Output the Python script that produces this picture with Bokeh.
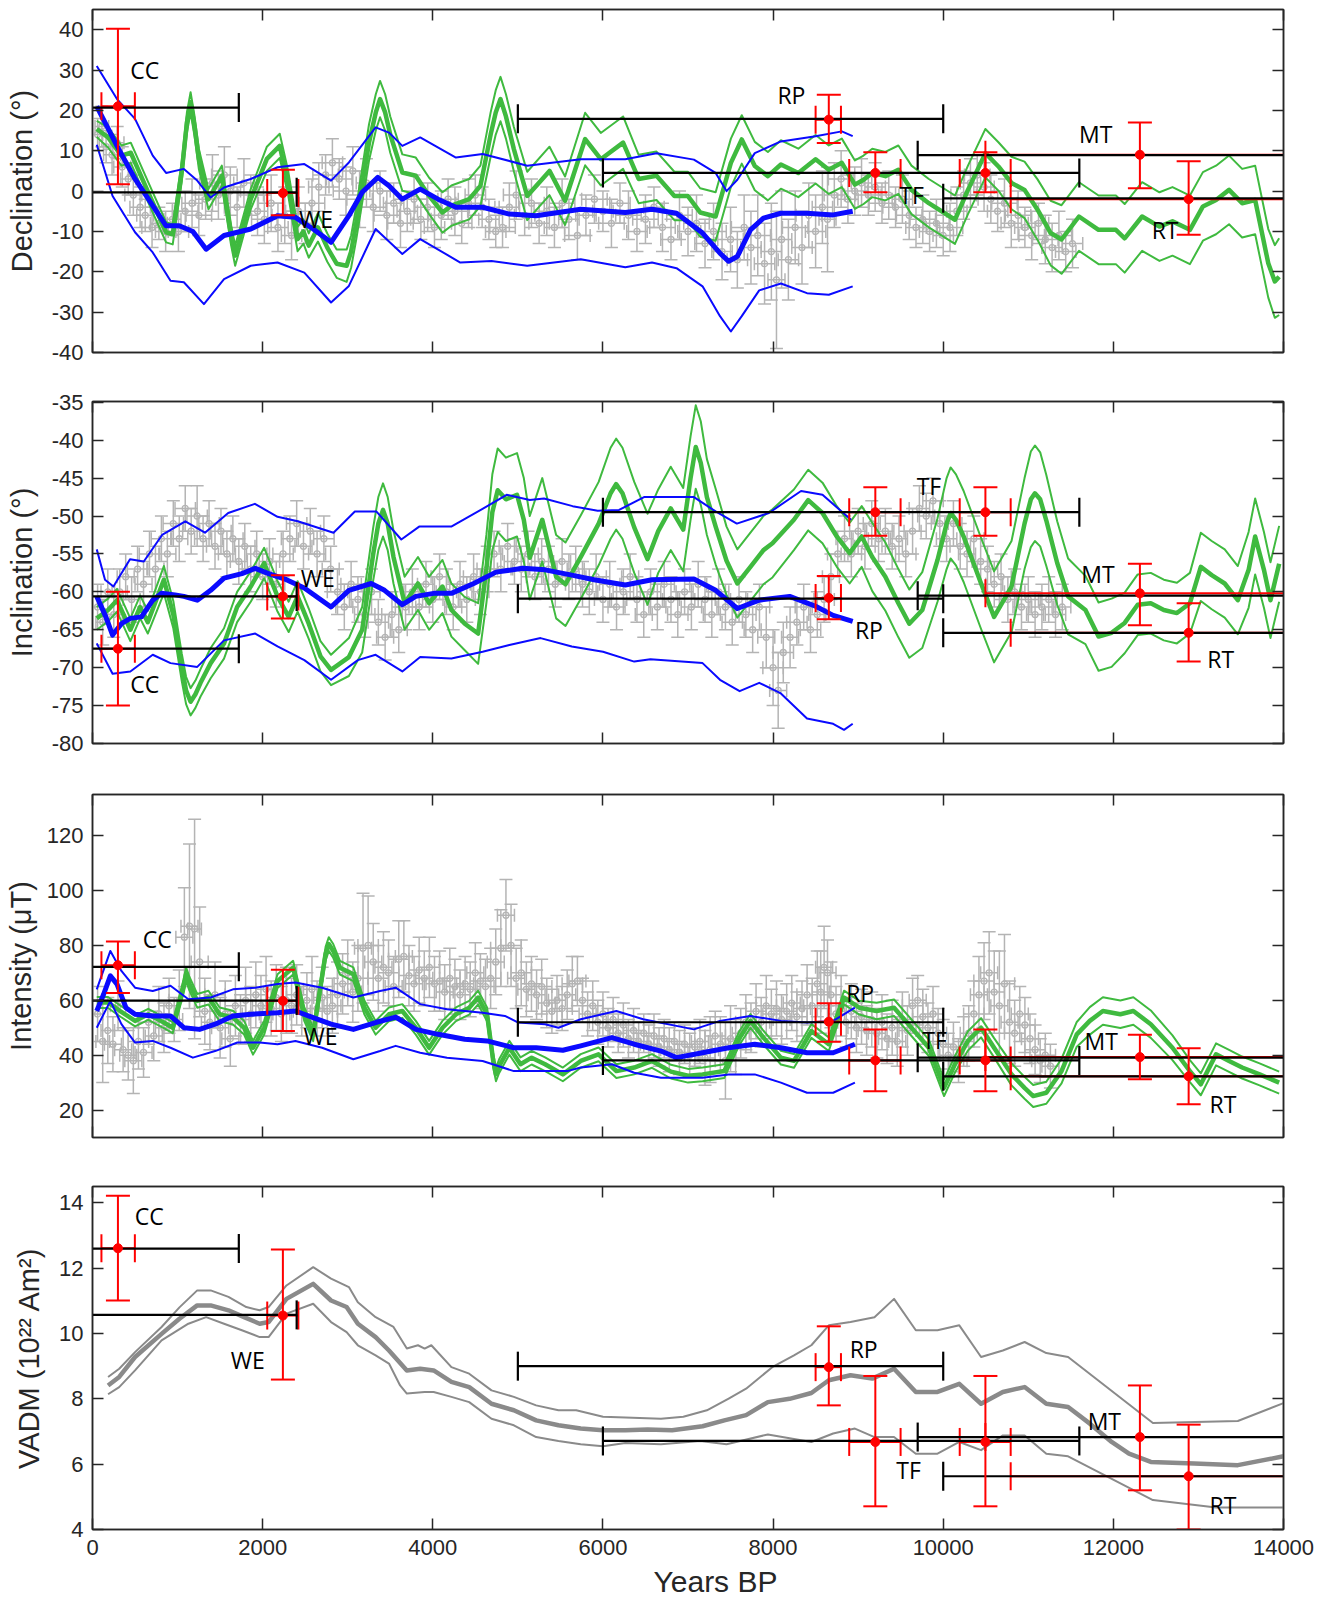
import numpy as np
from bokeh.plotting import figure
from bokeh.layouts import column
from bokeh.models import Range1d, FixedTicker, Title, CustomJSTickFormatter, LinearAxis
from bokeh.core.properties import value
from bokeh.embed import file_html
from bokeh.resources import INLINE

# ---------------- data ----------------
X_TICKS = [0, 2000, 4000, 6000, 8000, 10000, 12000, 14000]
DEC_TICKS = [-40, -30, -20, -10, 0, 10, 20, 30, 40]
INC_TICKS = [-80, -75, -70, -65, -60, -55, -50, -45, -40, -35]
INT_TICKS = [20, 40, 60, 80, 100, 120]
VADM_TICKS = [4, 6, 8, 10, 12, 14]

SITES = ["CC", "WE", "RP", "TF", "MT", "RT"]

# red site means: CC, WE, RP, TF(a), TF(b), MT, RT
RED_AGE = [299, 2238, 8655, 9202, 10496, 12312, 12885]
RED_AGE_LO = [105, 2054, 8500, 8895, 10194, 10496, 10793]
RED_AGE_HI = [498, 2420, 8798, 9499, 10793, 14128, 14977]
RED_DEC = [21.0, -0.5, 17.7, 4.5, 4.5, 9.0, -2.0]
RED_DEC_LO = [1.7, -6.0, 11.9, -0.3, -0.3, 0.7, -10.8]
RED_DEC_HI = [40.2, 5.3, 23.9, 9.6, 9.6, 17.0, 7.4]
RED_INC = [-67.5, -60.6, -60.8, -49.5, -49.5, -60.2, -65.4]
RED_INC_LO = [-75.0, -63.5, -63.6, -52.6, -52.6, -64.4, -69.2]
RED_INC_HI = [-60.0, -57.8, -57.9, -46.2, -46.2, -56.3, -61.5]
RED_INT = [72.8, 59.8, 52.2, 38.1, 38.1, 39.3, 32.3]
RED_INT_LO = [62.7, 48.8, 44.9, 26.9, 26.9, 31.2, 22.1]
RED_INT_HI = [81.4, 71.1, 58.9, 49.4, 49.4, 47.4, 42.5]
RED_VADM = [12.61, 10.55, 8.97, 6.68, 6.68, 6.83, 5.63]
RED_VADM_LO = [11.01, 8.59, 7.80, 4.71, 4.71, 5.20, 4.00]
RED_VADM_HI = [14.22, 12.57, 10.22, 8.70, 8.70, 8.41, 7.21]

# black age ranges: CC, WE, RP, TF, MT, RT
RANGE_LO = [-200, -200, 5000, 6000, 9700, 10000]
RANGE_HI = [1720, 2400, 10000, 11600, 15000, 15000]
RANGE_DEC = [20.7, -0.3, 17.9, 4.5, 8.9, -1.8]
RANGE_INC = [-67.5, -60.6, -60.9, -49.5, -60.5, -65.4]
RANGE_INT = [72.2, 59.9, 52.0, 38.1, 39.1, 32.3]
RANGE_VADM = [12.6, 10.57, 9.0, 6.71, 6.83, 5.63]

# site label anchor positions (age, value) per panel, order of SITES
POS_DEC = [[445, 30], [2427, -6.9], [8051, 23.9], [9483, -0.9], [11596, 14.1], [12450, -9.6]]
POS_INC = [[445, -72.2], [2448, -58.2], [8962, -65.0], [9688, -46.1], [11622, -57.7], [13105, -68.8]]
POS_INT = [[592, 82.5], [2479, 47.0], [8859, 62.6], [9754, 45.4], [11662, 45.2], [13130, 22.3]]
POS_VADM = [[498, 13.61], [1625, 9.18], [8900, 9.54], [9448, 5.81], [11698, 7.33], [13130, 4.74]]

# green model: [age, value, half-width]
GREEN_DEC = [[50,15.4,2],[183,13.3,2.5],[340,8.8,2.5],[450,9.5,2.5],[655,-0.3,2.5],[865,-10.2,2.5],[943,-10.7,2.5],
 [1050,5,2.5],[1110,17,2.5],[1153,22,2.5],[1200,16,2.5],[1250,8,2.5],[1363,-2,2.5],[1520,3.8,2.5],[1630,-11,2.5],
 [1677,-16,2.5],[1730,-12,2.5],[1860,-2,2.5],[2050,8,3],
 [2201,11.2,3],[2300,2,3],[2411,-11.9,3],[2480,-10,3],[2542,-13.5,3],[2650,-9,3.5],[2760,-14,3.5],[2870,-18,3.5],
 [2987,-18.5,4],[3040,-15,4],[3100,-8,4],[3250,12,4.5],[3330,19.5,4.5],[3380,22.8,4.5],[3440,19.5,4.5],[3500,14,4.5],
 [3642,4.6,4.5],[3800,3.8,4.5],[3957,-1.2,4.5],
 [4114,-5.3,5],[4219,-3.6,5],[4428,-2,5],[4560,1.3,5],[4680,14,5.5],[4740,19.5,5.5],[4796,22.8,5.5],[4860,18.5,5.5],
 [4953,10.4,5.5],[5110,-1.2,6],
 [5372,5,6],[5555,-2.4,6],[5791,12.9,6.5],[5975,7.9,6.5],[6237,12,6.5],[6420,3,6],[6630,3.8,6],[6840,-1.2,6],
 [6997,-1.2,6],[7143,-5.3,6],[7325,-6.3,6],[7504,7,6],[7632,12.8,6],[7785,6.2,6],[7939,3.7,6],[8092,6.6,6],
 [8297,4.5,6],[8500,7.9,6],[8655,5.3,6],[8808,7,6],[8962,1.6,6],[9064,2.8,6],[9166,4.5,6],[9320,3.7,6],
 [9473,5.3,6],[9627,0.3,6],[9831,-3,6],[10138,-7.1,6],[10291,0.3,6],[10496,9.4,6],[10649,6.1,6],[10803,2,6.5],
 [10956,0.3,7],[11109,-4.6,7.5],[11263,-10.4,8],[11391,-12,8.5],[11596,-6.3,8.5],[11826,-9.6,8.5],[12030,-9.6,8.5],
 [12133,-11.7,8.5],[12338,-6.3,8.5],[12542,-8.8,8.5],[12695,-7.5,8.5],[12900,-9.6,8.5],[13053,-3.8,8.5],
 [13207,-2.2,8.5],[13360,0.3,8.5],[13514,-3,8.5],[13667,-2.2,8.5],[13821,-17.9,8.5],[13898,-22.4,9],[13949,-21.2,9.5]]

GREEN_INC = [[50,-63.5,1.5],[183,-62.4,1.5],[288,-61.1,1.5],[445,-65,1.5],[560,-62,1.5],[650,-64,1.5],[839,-58.4,1.8],
 [950,-63,1.8],[1050,-70,1.8],[1100,-73,1.8],[1153,-74.5,1.8],[1210,-73.5,1.8],[1270,-72,1.8],[1389,-69.4,2],
 [1546,-66.8,2],[1700,-62,2],[1860,-59.3,2],
 [2018,-56.2,2],[2175,-60.6,2],[2306,-63.3,2],[2411,-60.6,2],[2542,-64.2,2],[2680,-68.5,2],[2804,-70.3,2],[3014,-68.6,2.5],
 [3170,-65,3],[3300,-55,3.5],[3360,-51,3.5],[3415,-49.2,3.5],[3470,-51,3.5],[3538,-55.4,3.5],[3669,-61.5,3.5],
 [3826,-58.9,3.5],[3957,-61.5,3.5],
 [4114,-59.3,3.5],[4219,-62.4,3.5],[4376,-64.2,3.5],[4533,-65.5,4],[4630,-57,4.5],[4700,-49.5,5],[4763,-46.6,5.5],
 [4860,-47.8,5.5],[4990,-47.2,5.5],[5070,-50.5,5.5],[5140,-55.5,5.5],[5287,-50.5,5.5],[5450,-58,5.5],[5560,-59,5.5],
 [5740,-55.4,5.5],[5950,-51,5.5],
 [6090,-47,6],[6155,-45.8,6],[6230,-47,6],[6368,-51.5,6],[6524,-55.7,6],[6650,-52,5.5],[6797,-49,5.5],[6944,-51.8,5.5],
 [7030,-45,5.5],[7091,-40.9,5.5],[7150,-43,5.5],
 [7222,-47.5,5],[7325,-51.4,5],[7453,-55.9,4.5],[7580,-58.9,4.5],[7734,-56.7,4.5],[7887,-54.5,4.5],[7993,-53.6,4.5],
 [8245,-50.5,4],[8413,-47.9,4],[8581,-49.6,4],[8749,-52.7,4],[8900,-54.9,4],[9042,-52.7,4],
 [9166,-55.4,4.5],[9320,-58,4.5],[9473,-61.5,4.5],[9601,-64.2,4.5],[9754,-62.4,5],[9933,-55.8,5.5],[10040,-51,6],
 [10087,-49.6,6],[10150,-50.5,6],
 [10240,-52.7,6],[10445,-58.9,6],[10598,-63.3,6],[10803,-59.3,6],[10956,-51,6],[11030,-47.8,6.3],[11078,-47,6.3],
 [11140,-47.8,6.2],[11212,-50.6,6],
 [11340,-56.2,5.5],[11468,-60.6,5],[11672,-62.4,4.5],[11826,-65.9,4.5],[11979,-65.4,4.5],[12133,-64.1,4],
 [12286,-61.7,4],[12440,-61.5,4],[12593,-62.4,4],[12747,-62.8,4],[12900,-61.5,4],[13028,-56.7,4.5],[13156,-57.8,4.5],
 [13309,-58.9,4.5],[13463,-61.1,4.5],[13590,-57.1,5],[13667,-52.7,5],[13770,-57.1,5],[13847,-61.1,5],[13949,-56.3,5]]

GREEN_INT = [[50,59.2,2],[183,59.2,2],[330,56,2],[500,52.5,2],[655,54.9,2],[839,51.9,2],[943,50,2],[1070,65,2.5],
 [1100,69.5,2.5],[1140,66,2.5],
 [1231,59.8,2.5],[1363,61,2.5],[1494,54.9,2.5],[1651,53.7,2.5],[1782,50,2.5],[1887,42.7,2.5],[2018,50,2.5],
 [2175,67,2.5],[2358,71.9,2.5],[2490,54.9,2.5],[2594,47.6,2.5],[2740,77,2.5],[2778,80.5,2.5],[2830,78,2.5],
 [2909,71.9,2.5],[3066,69.5,2.5],
 [3197,57.3,2.5],[3328,50,2.5],[3485,54.9,2.5],[3642,56.1,2.5],[3800,50,2.5],[3957,42.7,2.5],[4114,50,2.5],
 [4272,54.9,2.5],[4428,57.3,2.5],[4533,61,2.5],[4638,54.9,2.5],[4710,38,2.5],[4743,33,2.5],[4780,36,2.5],
 [4900,42.7,2.5],[5031,36.7,2.5],
 [5162,39.1,2.5],[5320,36.7,2.5],[5529,33,2.5],[5739,37.9,2.5],[5948,40.3,2.5],[6158,34.2,2.5],[6368,35.5,2.5],
 [6577,37.9,2.5],[6800,34,2.5],[7000,32.5,2.5],[7171,33,2.5],[7427,34.2,2.5],[7600,46,2.5],[7734,52.5,2.5],
 [7887,46.4,2.5],[8092,39.1,2.5],[8246,37.9,2.5],[8450,48.8,2.5],[8655,44,2.5],[8834,61,2.5],[9013,57.3,2.5],
 [9217,56.1,3],[9422,57.3,3],[9627,50,3],[9831,42.7,3],[10010,28.1,3],[10138,36.7,3],[10291,45.2,3.5],
 [10445,50,3.5],[10598,42.7,3.5],[10803,33,4],[10956,28.1,4],[11058,25.1,4],[11212,26.3,4],[11391,34.2,4.5],
 [11570,47.6,4.5],[11723,52.5,5],[11877,56.1,5],[12082,54.9,5],[12235,56.1,5],[12440,51.3,5],[12695,42.7,4.5],
 [12900,34.2,4],[13028,29.4,4],[13207,40.3,4],[13360,37.9,4],[13514,35.5,4],[13719,33,4],[13949,30,4]]

# blue model: [age, value]
BLUE_DEC = [[50,21],[288,11.2],[500,3],[708,-3.6],[865,-8.6],[1020,-8.6],[1180,-10],[1336,-14.4],[1546,-11],
 [1860,-9.4],[2175,-6.1],[2385,-6.5],[2594,-9.4],[2804,-12.7],[3014,-6.1],[3170,-0.3],[3354,3.4],[3485,1.3],
 [3642,-2],[3852,0.5],[4062,-2],[4272,-4],[4586,-4],[4900,-5.7],[5215,-6.1],[5739,-4.5],[6263,-5.3],[6577,-4.5],
 [6865,-5.5],[7171,-10.4],[7376,-15.4],[7478,-17.4],[7580,-16.2],[7734,-9.6],[7887,-6.7],[8092,-5.5],[8399,-5.5],
 [8706,-5.9],[8936,-5.0]]
BLUE_DEC_UP = [[50,31],[288,22.8],[500,17.9],[708,8.8],[865,4.5],[1074,5.5],[1231,2.6],[1389,-1.6],[1546,0.9],
 [1860,3],[2175,5.9],[2490,6.7],[2804,2.6],[3014,7.1],[3328,15.8],[3485,14.5],[3642,11.2],[3852,13.3],[4272,8.3],
 [4586,9.2],[5110,6.3],[5739,7.9],[6263,7.9],[6630,9.4],[7069,7.8],[7325,4.5],[7453,0],[7580,2.8],[7785,9.4],
 [8092,12.3],[8500,13.6],[8808,14.8],[8936,13.6]]
BLUE_DEC_LO = [[50,11.5],[236,-1.2],[500,-10.2],[708,-15.2],[917,-22.2],[1074,-22.6],[1310,-28],[1546,-21.8],
 [1860,-18.5],[2175,-17.7],[2490,-20.2],[2804,-27.6],[3014,-23.5],[3328,-9.4],[3642,-15.6],[3852,-11.9],[4324,-17.7],
 [4690,-17.3],[5110,-18.5],[5739,-16.9],[6263,-18.9],[6577,-17.7],[6865,-19.1],[7171,-23.6],[7376,-31],[7504,-34.8],
 [7632,-31],[7837,-24.6],[8092,-22.9],[8399,-25.3],[8655,-25.7],[8936,-23.6]]

BLUE_INC = [[50,-60.6],[157,-63.3],[236,-65.7],[340,-64.2],[445,-63.5],[576,-63.3],[708,-61.1],[812,-60.2],[970,-60.4],
 [1074,-60.6],[1231,-61.1],[1389,-59.8],[1546,-58.2],[1756,-57.6],[1913,-56.9],[2070,-57.6],[2280,-58.4],[2490,-59.5],
 [2804,-62],[3014,-59.8],[3276,-58.9],[3433,-59.8],[3642,-61.7],[3800,-60.6],[4010,-60.2],[4219,-60.2],[4481,-58.9],
 [4743,-57.4],[5058,-56.9],[5320,-57.1],[5634,-57.8],[5896,-58.4],[6263,-59.1],[6577,-58.4],[7069,-58.3],[7325,-59.8],
 [7580,-62.2],[7837,-61.1],[8195,-60.6],[8500,-61.9],[8706,-63.1],[8936,-63.9]]
BLUE_INC_UP = [[50,-54.4],[147,-58.4],[246,-59.3],[441,-55.7],[603,-56],[818,-52.5],[1091,-50.7],[1322,-52.2],
 [1595,-49.6],[1909,-48.4],[2175,-50.1],[2413,-50.7],[2833,-52.2],[3084,-49.4],[3336,-49.4],[3630,-53.1],[3840,-51.4],
 [4217,-51.4],[4595,-49],[4868,-47.2],[5140,-47.9],[5308,-47.7],[5644,-48.7],[5938,-49.3],[6190,-49.2],[6483,-47.5],
 [7070,-47.5],[7325,-49.4],[7574,-51],[7951,-49.6],[8329,-46.7],[8581,-47.2],[8917,-50.5]]
BLUE_INC_LO = [[50,-66.8],[236,-70.8],[445,-70.5],[708,-68.3],[917,-69.4],[1231,-69.9],[1546,-66.4],[1913,-65.5],
 [2175,-67.2],[2490,-69],[2804,-71.6],[3119,-69],[3328,-68.3],[3642,-70.5],[3852,-68.6],[4219,-68.8],[4586,-67.9],
 [4900,-67],[5267,-66.1],[5634,-67.2],[6001,-67.9],[6368,-69.2],[6558,-68.9],[7171,-69.4],[7376,-71.6],[7607,-73.1],
 [7837,-72],[8092,-73.4],[8399,-76.7],[8706,-77.4],[8834,-78.2],[8936,-77.4]]

BLUE_INT = [[50,56.1],[131,62.2],[210,68.9],[288,65.9],[393,57.3],[500,54.9],[708,54.3],[917,54.3],[1074,50],
 [1258,49.4],[1441,51.3],[1651,54.3],[1860,54.9],[2175,55.5],[2385,56.1],[2594,53.7],[2804,51.3],[3066,49.4],
 [3328,51.9],[3564,53.9],[3800,49.4],[4062,47.6],[4376,45.8],[4638,45.2],[4953,42.7],[5215,42.7],[5529,41.8],
 [5739,43.4],[6106,46.4],[6368,44],[6682,41.5],[6865,39.1],[7171,40.9],[7478,42.7],[7785,44],[8092,42.7],
 [8399,40.9],[8706,40.9],[8962,44]]
BLUE_INT_UP = [[50,64],[210,78],[340,70.7],[500,64.6],[708,63.4],[917,65.3],[1127,60.4],[1389,61],[1651,64],
 [1913,64.6],[2175,65.9],[2385,66.5],[2699,64.6],[3066,61],[3380,63.4],[3564,64.6],[3852,58.6],[4167,56.7],
 [4586,55.5],[4848,54.3],[5005,51.9],[5320,51.3],[5477,50],[5739,53.1],[6158,56.1],[6473,53.1],[7069,49.4],
 [7376,52.5],[7734,54.3],[8092,52.5],[8399,51.9],[8706,52.5],[8962,57.3]]
BLUE_INT_LO = [[50,50],[210,59.8],[340,51.3],[500,44.6],[708,45.2],[917,42.7],[1180,39.1],[1441,41.5],[1703,44.6],
 [1965,44.6],[2175,44],[2385,45.2],[2699,42.7],[3066,38.5],[3380,41.5],[3564,43.4],[3852,40.9],[4167,39.1],
 [4586,37.9],[4953,34.2],[5320,34.2],[5581,34.2],[5739,35.5],[6106,36.7],[6368,33.6],[6682,31.8],[7171,31.8],
 [7478,33],[7785,33],[8092,30],[8399,26.3],[8706,26.3],[8962,30]]

# VADM model: [age, value]
VADM_MID = [[183,8.41],[314,8.67],[500,9.28],[812,9.99],[1022,10.45],[1231,10.86],[1389,10.86],[1598,10.71],
 [1782,10.5],[1965,10.3],[2070,10.35],[2280,11.06],[2594,11.52],[2804,11.01],[2987,10.81],[3119,10.3],[3328,9.89],
 [3485,9.48],[3695,8.87],[3852,8.92],[4010,8.87],[4219,8.52],[4428,8.36],[4690,7.85],[4953,7.65],[5215,7.34],
 [5477,7.19],[5739,7.09],[6001,7.04],[6263,7.04],[6525,7.06],[6813,7.04],[7171,7.16],[7427,7.34],[7683,7.5],
 [7939,7.9],[8194,8.0],[8450,8.18],[8655,8.57],[8910,8.72],[9166,8.62],[9422,8.92],[9678,8.21],[9933,8.21],
 [10189,8.46],[10445,7.85],[10701,8.21],[10957,8.36],[11212,7.85],[11468,7.75],[11724,7.24],[11980,6.68],
 [12184,6.32],[12440,6.07],[12951,6.02],[13463,5.97],[14000,6.24]]
VADM_UP = [[183,8.67],[314,8.92],[500,9.43],[812,10.2],[1022,10.8],[1231,11.32],[1389,11.32],[1598,11.12],
 [1808,10.81],[1965,10.71],[2070,10.81],[2280,11.47],[2594,12.03],[2804,11.68],[3014,11.42],[3119,10.96],
 [3328,10.5],[3538,10.2],[3695,9.54],[3826,9.64],[3904,9.54],[3983,9.64],[4219,8.97],[4428,8.77],[4690,8.26],
 [4953,8.06],[5215,7.8],[5477,7.65],[5686,7.65],[6001,7.45],[6263,7.43],[6682,7.39],[6945,7.45],[7222,7.65],
 [7478,8.01],[7683,8.31],[7990,8.97],[8246,9.33],[8450,9.64],[8655,10.25],[8910,10.35],[9192,10.5],[9422,11.06],
 [9678,10.1],[9933,10.1],[10189,10.25],[10445,9.28],[10701,9.48],[10957,9.74],[11212,9.4],[11468,9.28],
 [12465,7.26],[13463,7.32],[14000,7.87]]
VADM_LO = [[183,8.14],[314,8.36],[500,8.87],[812,9.79],[1127,10.3],[1336,10.5],[1546,10.3],[1756,10.1],[1965,9.89],
 [2070,9.89],[2280,10.61],[2594,10.91],[2804,10.35],[2987,10.04],[3119,9.64],[3328,9.33],[3485,9.08],[3616,8.41],
 [3695,8.16],[3904,8.21],[4010,8.21],[4219,8.06],[4428,7.9],[4690,7.39],[4953,7.19],[5215,6.83],[5477,6.71],
 [5739,6.61],[6001,6.55],[6263,6.65],[6682,6.61],[7143,6.71],[7453,6.61],[7939,6.91],[8450,6.68],[8706,6.94],
 [8962,7.09],[9192,6.83],[9422,6.83],[9678,6.32],[9933,6.32],[10189,6.68],[10445,6.43],[10701,6.88],[10957,6.88],
 [11212,6.32],[11468,6.24],[12465,4.9],[13207,4.67],[14000,4.67]]

# gray data: [age, value, value_err, age_err]
DATA_DEC = [[60,14,4,60],[110,16,5,80],[160,11,4,80],[230,9,5,100],[290,12,4,80],[350,6,5,100],[420,3,4,90],
 [480,-1,5,100],[560,-4,5,120],[620,-6,4,100],[700,-9,5,120],[780,-8,4,100],[860,-10,5,120],[940,-7,4,100],
 [1010,-10,5,120],[1090,-5,5,150],[1170,-3,6,120],[1250,-6,5,150],[1330,-2,5,120],[1410,2,7,150],[1480,-1,6,120],
 [1550,4,7,150],[1620,0,6,120],[1700,-4,5,150],[1780,2,6,120],[1860,-1,5,150],[1940,-5,6,120],[2020,-7,6,150],
 [2100,-3,7,150],[2180,-9,6,120],[2260,-6,7,150],[2340,-11,6,120],[2420,-5,6,150],[2500,-8,5,120],[2580,-3,6,150],
 [2660,1,6,120],[2740,4,5,150],[2820,7,6,120],[2900,3,5,150],[2980,0,6,150],[3060,5,6,120],[3140,-2,7,150],
 [3220,2,6,120],[3300,-4,6,150],[3380,0,5,120],[3460,-6,6,150],[3540,-3,5,120],[3620,-8,6,150],[3700,-5,5,120],
 [3780,-2,6,150],[3860,-7,5,120],[3940,-4,6,150],[4020,-9,5,120],[4100,-6,6,150],[4180,-2,5,120],[4260,-5,6,150],
 [4340,-8,5,120],[4420,-3,6,150],[4500,-1,5,120],[4580,-4,5,150],[4660,-7,5,120],[4740,-10,4,120],[4820,-9,5,150],
 [4900,-4,6,120],[4980,-1,6,150],[5080,-6,5,120],[5160,-3,6,150],[5250,-8,5,120],[5340,-5,6,150],[5430,-9,5,120],
 [5520,-3,6,150],[5600,-7,5,120],[5700,-11,6,150],[5800,-6,5,120],[5900,-2,6,150],[6000,-5,5,120],[6100,-8,6,150],
 [6200,-3,5,120],[6300,-6,6,150],[6400,-10,5,120],[6500,-7,6,150],[6600,-4,5,120],[6700,-9,6,150],[6800,-12,5,120],
 [6900,-6,6,150],[7000,-10,6,120],[7100,-8,7,150],[7200,-13,6,120],[7300,-10,7,150],[7400,-15,7,120],[7500,-12,8,150],
 [7580,-17,7,120],[7660,-9,8,150],[7740,-14,9,120],[7820,-11,10,150],[7900,-18,10,120],[7980,-15,12,120],
 [8040,-22,17,100],[8100,-12,12,120],[8180,-17,10,120],[8260,-9,9,150],[8340,-14,9,120],[8420,-6,8,150],
 [8500,-10,9,120],[8580,-4,9,120],[8640,-7,13,100],[8720,-1,8,120],[8800,3,7,150],[8880,-2,6,120],[8960,0,6,150],
 [9040,2,6,120],[9120,-1,5,150],[9200,1,6,120],[9280,-3,5,150],[9360,-1,6,120],[9440,-4,5,150],[9520,-2,6,120],
 [9600,-6,6,150],[9680,-9,5,120],[9760,-7,6,150],[9840,-10,5,120],[9920,-8,6,150],[10000,-11,5,120],[10080,-9,6,150],
 [10160,-5,6,120],[10240,-1,6,150],[10320,2,6,120],[10400,4,5,150],[10480,1,6,120],[10560,-2,6,150],[10640,-5,5,120],
 [10720,-3,6,150],[10800,-8,6,120],[10880,-6,6,150],[10960,-9,5,120],[11040,-11,6,150],[11120,-8,5,120],
 [11200,-12,6,150],[11280,-14,6,120],[11360,-11,6,150],[11440,-15,5,120],[11520,-13,6,120]]

DATA_INC = [[60,-62,3,60],[120,-64,3,80],[180,-60,3,80],[250,-63,3,100],[320,-60,3,90],[390,-58,3,100],[460,-61,3,100],
 [530,-57,3,120],[600,-59,3,100],[670,-55,3,120],[740,-57,3,100],[810,-53,3,120],[880,-55,3,100],[950,-51,3,120],
 [1020,-53,3,100],[1090,-49,3,120],[1160,-52,3,100],[1230,-50,4,120],[1300,-53,3,100],[1370,-51,3,120],[1440,-54,3,100],
 [1510,-52,3,120],[1580,-55,3,100],[1650,-53,3,120],[1720,-56,3,100],[1790,-54,3,120],[1860,-57,3,100],[1930,-55,3,120],
 [2000,-58,3,100],[2080,-56,3,120],[2160,-59,3,100],[2240,-55,3,120],[2320,-53,3,100],[2400,-51,3,120],[2480,-54,3,100],
 [2560,-52,3,120],[2640,-55,3,100],[2720,-53,3,120],[2800,-57,3,100],[2880,-60,3,120],[2960,-62,3,100],[3040,-59,3,120],
 [3120,-61,3,100],[3200,-63,3,120],[3280,-60,3,100],[3360,-64,3,120],[3440,-66,3,100],[3520,-63,3,120],[3600,-65,3,100],
 [3680,-62,3,120],[3760,-60,3,100],[3840,-62,3,120],[3920,-59,3,100],[4000,-61,3,120],[4080,-58,3,100],[4160,-60,3,120],
 [4240,-62,3,100],[4320,-59,3,120],[4400,-61,3,100],[4480,-58,3,120],[4560,-60,3,100],[4640,-57,3,120],[4720,-55,3,100],
 [4800,-57,3,120],[4880,-54,3,100],[4960,-56,3,120],[5040,-57,3,100],[5120,-55,3,120],[5200,-58,3,100],[5280,-56,3,120],
 [5360,-57,3,100],[5440,-59,3,120],[5520,-56,3,100],[5600,-58,3,120],[5680,-57,3,100],[5760,-59,3,120],[5840,-60,3,100],
 [5920,-58,3,120],[6000,-61,3,100],[6080,-59,3,120],[6160,-62,3,100],[6240,-60,3,120],[6320,-58,3,100],[6400,-61,3,120],
 [6480,-63,3,100],[6560,-60,3,120],[6640,-62,3,100],[6720,-59,3,120],[6800,-61,3,100],[6880,-63,3,120],[6960,-60,3,100],
 [7040,-62,3,120],[7120,-59,3,100],[7200,-61,3,120],[7280,-63,3,100],[7360,-60,3,120],[7440,-62,3,100],[7520,-64,3,120],
 [7600,-61,3,100],[7680,-63,3,120],[7760,-65,3,100],[7840,-62,3,120],[7920,-66,4,100],[8000,-70,5,120],[8060,-73,5,100],
 [8120,-68,4,120],[8200,-66,4,100],[8280,-64,3,120],[8360,-62,3,100],[8440,-65,3,120],[8520,-63,3,100],[8600,-61,3,120],
 [8680,-58,3,100],[8760,-55,3,120],[8840,-53,3,100],[8920,-55,3,120],[9000,-52,3,100],[9080,-54,3,120],[9160,-51,3,100],
 [9240,-53,3,120],[9320,-52,3,100],[9400,-54,3,120],[9480,-53,3,100],[9560,-55,3,120],[9640,-52,3,100],[9720,-49,3,120],
 [9800,-50,3,100],[9880,-48,3,120],[9960,-51,3,100],[10040,-53,3,120],[10120,-51,3,100],[10200,-54,3,120],
 [10280,-55,3,100],[10360,-53,3,120],[10440,-56,3,100],[10520,-57,3,120],[10600,-59,3,100],[10680,-58,3,120],
 [10760,-61,3,100],[10840,-60,3,120],[10920,-62,3,100],[11000,-61,3,120],[11080,-63,3,100],[11160,-62,3,120],
 [11240,-61,3,100],[11320,-63,3,120],[11400,-62,3,100]]

DATA_INT = [[60,55,10,60],[120,45,15,80],[180,49,12,80],[240,44,10,100],[300,58,9,90],[360,42,8,100],[420,40,9,100],
 [480,38,12,100],[540,45,10,120],[600,41,9,100],[660,52,8,120],[720,47,9,100],[780,55,10,120],[840,50,9,100],
 [900,58,10,120],[960,53,8,100],[1020,60,11,120],[1080,83,18,100],[1140,87,30,100],[1200,86,40,80],[1260,74,20,100],
 [1320,56,12,120],[1380,52,10,100],[1440,62,12,120],[1500,50,11,100],[1560,55,12,120],[1620,46,10,100],[1680,58,11,120],
 [1740,53,9,100],[1800,60,12,120],[1860,55,10,100],[1920,62,12,120],[1980,58,11,100],[2040,64,12,120],[2100,57,10,100],
 [2160,61,12,120],[2220,55,10,100],[2280,60,12,120],[2340,58,10,100],[2400,62,11,120],[2460,56,9,100],[2520,60,10,120],
 [2580,64,12,100],[2640,57,10,120],[2700,61,11,100],[2760,56,9,120],[2820,58,10,100],[2880,62,12,120],[2940,66,11,100],
 [3000,70,12,120],[3060,63,11,100],[3120,68,12,120],[3180,79,20,100],[3240,80,18,120],[3300,74,14,100],[3360,68,12,120],
 [3420,72,13,100],[3480,70,12,120],[3540,65,11,100],[3600,75,14,120],[3660,76,13,100],[3720,69,11,120],[3780,66,10,100],
 [3840,71,12,120],[3900,68,10,100],[3960,72,11,120],[4020,66,10,100],[4080,67,11,120],[4140,63,10,100],[4200,68,11,120],
 [4260,65,10,100],[4320,62,9,120],[4380,66,10,100],[4440,64,10,120],[4500,70,11,100],[4560,67,10,120],[4620,65,10,100],
 [4680,68,11,120],[4740,74,12,100],[4800,79,14,120],[4860,91,13,100],[4920,80,15,120],[4980,68,11,100],[5040,70,12,120],
 [5100,64,10,100],[5160,66,10,120],[5220,62,9,100],[5280,65,10,120],[5340,59,9,100],[5400,56,8,120],[5460,60,9,100],
 [5520,57,8,120],[5580,62,9,100],[5640,66,10,120],[5700,67,9,100],[5760,60,8,120],[5820,55,8,100],[5880,58,9,120],
 [5940,52,8,100],[6000,55,8,120],[6060,50,7,100],[6120,53,8,120],[6180,48,7,100],[6240,51,8,120],[6300,46,7,100],
 [6360,49,8,120],[6420,45,7,100],[6480,48,7,120],[6540,44,7,100],[6600,47,8,120],[6660,43,7,100],[6720,46,7,120],
 [6780,42,8,100],[6840,45,7,120],[6900,41,8,100],[6960,44,7,120],[7020,40,8,100],[7080,43,7,120],[7140,45,8,100],
 [7200,39,10,120],[7260,42,12,100],[7320,47,9,120],[7380,44,10,100],[7440,38,14,120],[7500,46,12,100],[7560,43,10,120],
 [7620,48,9,100],[7680,52,10,120],[7740,50,9,100],[7800,56,10,120],[7860,52,9,100],[7920,58,11,120],[7980,55,9,100],
 [8040,57,10,120],[8100,53,9,100],[8160,56,10,120],[8220,59,10,100],[8280,54,9,120],[8340,57,10,100],[8400,62,11,120],
 [8460,58,10,100],[8520,66,12,120],[8560,63,15,100],[8600,72,15,100],[8640,70,12,100],[8680,62,12,120],[8740,55,10,100],
 [8800,58,11,120],[8860,52,9,100],[8920,56,10,120],[8980,50,9,100],[9040,54,10,120],[9100,49,9,100],[9160,53,10,120],
 [9220,48,9,100],[9280,52,10,120],[9340,46,9,100],[9400,50,10,120],[9460,45,9,100],[9520,53,10,120],[9580,49,9,100],
 [9640,58,10,120],[9700,60,9,100],[9760,54,10,120],[9820,50,9,100],[9880,55,10,120],[9940,48,9,100],[10000,44,9,120],
 [10060,40,8,100],[10120,43,9,120],[10180,38,8,100],[10240,45,9,120],[10300,48,10,100],[10360,55,12,120],
 [10420,62,14,100],[10480,67,14,120],[10540,70,15,100],[10600,63,15,120],[10660,58,20,100],[10720,66,18,120],
 [10780,52,15,100],[10840,48,12,120],[10900,55,10,100],[10960,51,10,120],[11020,46,9,100],[11080,42,9,120],
 [11140,38,8,100],[11200,40,8,120],[11260,36,8,100]]

# ---------------- style ----------------
INK = "#262626"
GREEN = "#3fba3f"
BLUE = "#0a0aff"
GRAY = "#b4b4b4"
RED = "#ff0000"
VGRAY = "#8a8a8a"
TICK_FONT = "Liberation Sans"
LABEL_FONT = "Liberation Sans"
SITE_FONT = "Open Sans"

XR = Range1d(0, 14000)
PLAIN = CustomJSTickFormatter(code="return tick.toString()")


def style_axis(ax, ticks, show_labels, standoff=9):
    ax.ticker = FixedTicker(ticks=ticks)
    ax.formatter = PLAIN
    ax.major_tick_in = 11
    ax.major_tick_out = 0
    ax.minor_tick_in = 0
    ax.minor_tick_out = 0
    ax.axis_line_color = INK
    ax.axis_line_width = 1.5
    ax.major_tick_line_color = INK
    ax.major_tick_line_width = 1.5
    if show_labels:
        ax.major_label_text_font = TICK_FONT
        ax.major_label_text_font_size = "22px"
        ax.major_label_text_color = INK
        ax.major_label_standoff = standoff
    else:
        ax.major_label_text_font_size = "0px"
        ax.major_label_standoff = 0


def make_panel(yrange, yticks, ylabel, top, fh, bottom, show_x, lab_standoff):
    p = figure(x_range=XR, y_range=Range1d(*yrange), frame_width=1191, frame_height=fh,
               min_border_left=92, min_border_right=49, min_border_top=top, min_border_bottom=bottom,
               output_backend="svg", toolbar_location=None,
               background_fill_color="white", border_fill_color="white")
    p.grid.visible = False
    p.outline_line_color = INK
    p.outline_line_width = 1.5
    left = p.left[0]
    style_axis(left, yticks, True, 9)
    left.axis_label = ylabel
    left.axis_label_text_font = LABEL_FONT
    left.axis_label_text_font_size = "29px"
    left.axis_label_text_font_style = "normal"
    left.axis_label_text_color = INK
    left.axis_label_standoff = lab_standoff
    style_axis(p.below[0], X_TICKS, show_x, 10)
    top_ax = LinearAxis()
    style_axis(top_ax, X_TICKS, False)
    p.add_layout(top_ax, "above")
    right_ax = LinearAxis()
    style_axis(right_ax, yticks, False)
    p.add_layout(right_ax, "right")
    return p


def xy(rows):
    a = np.array(rows, dtype=float)
    return a[:, 0], a[:, 1]


def draw_gray(p, rows):
    a = np.array(rows, dtype=float)
    age, val, err, aerr = a[:, 0], a[:, 1], a[:, 2], a[:, 3]
    p.segment(age, val - err, age, val + err, line_color=GRAY, line_width=1.5)
    p.segment(age - aerr, val, age + aerr, val, line_color=GRAY, line_width=1.5)
    p.scatter(np.r_[age, age], np.r_[val - err, val + err], marker="dash", size=13,
              line_color=GRAY, line_width=1.5)
    p.scatter(np.r_[age - aerr, age + aerr], np.r_[val, val], marker="dash", angle=np.pi / 2,
              size=13, line_color=GRAY, line_width=1.5)
    p.scatter(age, val, marker="circle", size=6, fill_color=None, line_color=GRAY, line_width=1.3)


def draw_green(p, rows):
    a = np.array(rows, dtype=float)
    age, val, hw = a[:, 0], a[:, 1], a[:, 2]
    p.line(age, val + hw, line_color=GREEN, line_width=2, line_join="round")
    p.line(age, val - hw, line_color=GREEN, line_width=2, line_join="round")
    p.line(age, val, line_color=GREEN, line_width=4.5, line_join="round")


def draw_blue(p, mid, up, lo):
    for rows in (up, lo):
        x, y = xy(rows)
        p.line(x, y, line_color=BLUE, line_width=2, line_join="round")
    x, y = xy(mid)
    p.line(x, y, line_color=BLUE, line_width=5, line_join="round")


def draw_sites(p, val, lo, hi, rng_val, positions):
    age = np.array(RED_AGE, dtype=float)
    alo = np.array(RED_AGE_LO, dtype=float)
    ahi = np.array(RED_AGE_HI, dtype=float)
    v = np.array(val, dtype=float)
    p.segment(alo, v, ahi, v, line_color=RED, line_width=2)
    p.scatter(np.r_[alo, ahi], np.r_[v, v], marker="dash", angle=np.pi / 2, size=28,
              line_color=RED, line_width=2)
    rlo = np.array(RANGE_LO, dtype=float)
    rhi = np.array(RANGE_HI, dtype=float)
    rv = np.array(rng_val, dtype=float)
    p.segment(rlo, rv, rhi, rv, line_color="black", line_width=2.2)
    p.scatter(np.r_[rlo, rhi], np.r_[rv, rv], marker="dash", angle=np.pi / 2, size=29,
              line_color="black", line_width=2.2)
    p.segment(age, lo, age, hi, line_color=RED, line_width=2)
    p.scatter(np.r_[age, age], np.r_[lo, hi], marker="dash", size=24, line_color=RED, line_width=2)
    p.scatter(age, v, marker="circle", size=9, fill_color=RED, line_color=RED)
    pos = np.array(positions, dtype=float)
    p.text(pos[:, 0], pos[:, 1], text=SITES, text_font=value(SITE_FONT), text_font_size="23px",
           text_color="black", text_align="left", text_baseline="middle")


# ---------------- panels ----------------
p1 = make_panel((-40, 45), DEC_TICKS, "Declination (°)", 9, 343, 24, False, 11)
draw_gray(p1, DATA_DEC)
draw_green(p1, GREEN_DEC)
draw_blue(p1, BLUE_DEC, BLUE_DEC_UP, BLUE_DEC_LO)
draw_sites(p1, RED_DEC, RED_DEC_LO, RED_DEC_HI, RANGE_DEC, POS_DEC)

p2 = make_panel((-80, -34.9), INC_TICKS, "Inclination (°)", 25, 342, 25, False, 11)
draw_gray(p2, DATA_INC)
draw_green(p2, GREEN_INC)
draw_blue(p2, BLUE_INC, BLUE_INC_UP, BLUE_INC_LO)
draw_sites(p2, RED_INC, RED_INC_LO, RED_INC_HI, RANGE_INC, POS_INC)

p3 = make_panel((10, 135), INT_TICKS, "Intensity (μT)", 26, 343, 24, False, 7)
draw_gray(p3, DATA_INT)
draw_green(p3, GREEN_INT)
draw_blue(p3, BLUE_INT, BLUE_INT_UP, BLUE_INT_LO)
draw_sites(p3, RED_INT, RED_INT_LO, RED_INT_HI, RANGE_INT, POS_INT)

p4 = make_panel((4, 14.5), VADM_TICKS, "VADM (10²² Am²)", 25, 343, 68, True, 11)
for rows, lw in ((VADM_UP, 2), (VADM_LO, 2), (VADM_MID, 4.5)):
    x, y = xy(rows)
    p4.line(x, y, line_color=VGRAY, line_width=lw, line_join="round")
draw_sites(p4, RED_VADM, RED_VADM_LO, RED_VADM_HI, RANGE_VADM, POS_VADM)
p4.add_layout(Title(text="Years BP", align="left", offset=561, standoff=10, text_font=LABEL_FONT,
                    text_font_size="30px", text_font_style="normal", text_color=INK), "below")

layout = column(p1, p2, p3, p4, spacing=0)
open("out.html", "w").write(file_html(layout, INLINE))
